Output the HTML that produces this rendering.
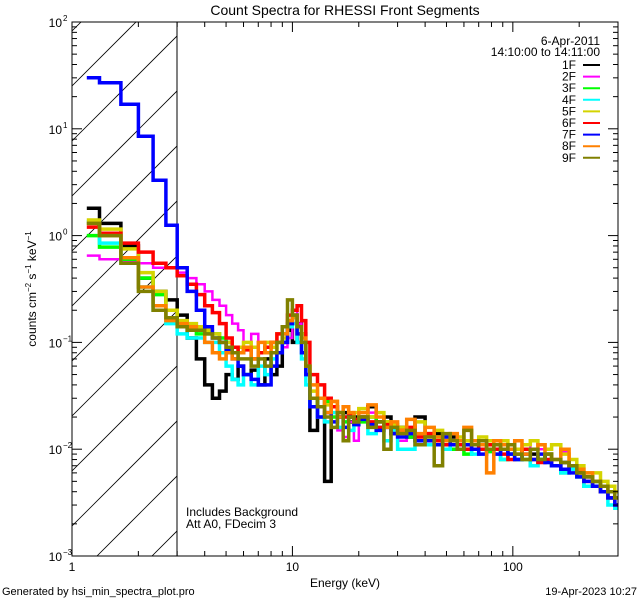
<!DOCTYPE html>
<html><head><meta charset="utf-8"><style>
html,body{margin:0;padding:0;background:#fff;width:640px;height:600px;overflow:hidden;}
svg{display:block;font-family:"Liberation Sans",sans-serif;}
</style></head><body>
<svg id="chart" width="640" height="600" viewBox="0 0 640 600" xmlns="http://www.w3.org/2000/svg">
<defs><clipPath id="plotclip"><rect x="72" y="22" width="546" height="534"/></clipPath>
<clipPath id="hatchclip"><rect x="72" y="22" width="105" height="534"/></clipPath></defs>
<rect x="0" y="0" width="640" height="600" fill="#fff"/>
<text x="345" y="15" font-size="14" text-anchor="middle">Count Spectra for RHESSI Front Segments</text>
<g id="hatch" clip-path="url(#hatchclip)"></g>
<line x1="177" y1="22" x2="177" y2="556" stroke="#000" stroke-width="1"/>
<g id="series" clip-path="url(#plotclip)"></g>
<rect x="72" y="22" width="546" height="534" fill="none" stroke="#000" stroke-width="1"/>
<g id="axes"></g>
<text x="345" y="587" font-size="12" text-anchor="middle">Energy (keV)</text>
<text transform="translate(36,289) rotate(-90)" font-size="12" text-anchor="middle">counts cm<tspan dy="-5" font-size="8">−2</tspan><tspan dy="5"> s</tspan><tspan dy="-5" font-size="8">−1</tspan><tspan dy="5"> keV</tspan><tspan dy="-5" font-size="8">−1</tspan></text>
<text x="600" y="45" font-size="12" text-anchor="end">6-Apr-2011</text>
<text x="600" y="56" font-size="12" text-anchor="end">14:10:00 to 14:11:00</text>
<g id="legend"></g>
<text x="186" y="516" font-size="12">Includes Background</text>
<text x="186" y="528" font-size="12">Att A0, FDecim 3</text>
<text x="2" y="595" font-size="11">Generated by hsi_min_spectra_plot.pro</text>
<text x="637" y="595" font-size="11" text-anchor="end">19-Apr-2023 10:27</text>
</svg>
<script>
const energyEdges=[1.167,1.333,1.667,2,2.333,2.667,3,3.333,3.667,4,4.333,4.667,5,5.333,5.667,6,6.5,7,7.5,8,8.5,9,9.5,10,10.5,11,11.5,12,13,14,15,16,17,18,19,20,22,24,26,28,30,33,36,40,44,48,52,56,60,65,70,76,82,88,95,102,110,120,130,140,150,165,180,195,210,230,250,270,290,300];
const seriesNames=["1F","2F","3F","4F","5F","6F","7F","8F","9F"];
const seriesColors=["#000000","#ff00ff","#00ff00","#00ffff","#d4d400","#ff0000","#0000ff","#ff8000","#808000"];
const s1F=[1.8,1.3,0.8,0.4,0.3,0.25,0.18,0.11,0.07,0.04,0.03,0.035,0.05,0.045,0.06, 0.05,0.055,0.04,0.07,0.05,0.06,0.1,0.13,0.1,0.15,0.12,0.05, 0.015,0.03,0.005,0.025,0.02,0.022,0.018,0.02, 0.02,0.025,0.018,0.02,0.015,0.016,0.013,0.02,0.012,0.014,0.011,0.013,0.012,0.011,0.01,0.012,0.01,0.011,0.01,0.009,0.008,0.01,0.009,0.008,0.009,0.007,0.0075,0.007,0.006,0.0055,0.005,0.004,0.0035,0.003];
const s2F=[0.65,0.6,0.58,0.55,0.5,0.5,0.45,0.4,0.35,0.3,0.25,0.22,0.18,0.15,0.13, 0.1,0.12,0.08,0.1,0.08,0.1,0.09,0.11,0.2,0.15,0.12,0.06, 0.03,0.025,0.02,0.022,0.015,0.013,0.018,0.012, 0.02,0.022,0.015,0.018,0.016,0.012,0.014,0.011,0.013,0.012,0.01,0.012,0.011,0.01,0.011,0.012,0.01,0.009,0.01,0.011,0.009,0.01,0.012,0.01,0.009,0.008,0.0095,0.008,0.007,0.006,0.005,0.0045,0.004,0.003];
const s3F=[1.0,0.78,0.6,0.4,0.28,0.2,0.14,0.13,0.12,0.12,0.12,0.11,0.1,0.09,0.08, 0.09,0.07,0.08,0.09,0.1,0.1,0.12,0.15,0.18,0.12,0.1,0.05, 0.03,0.025,0.028,0.02,0.022,0.018,0.02,0.017, 0.018,0.02,0.016,0.018,0.014,0.015,0.013,0.012,0.011,0.013,0.012,0.01,0.011,0.009,0.011,0.01,0.0095,0.01,0.008,0.009,0.01,0.008,0.007,0.008,0.009,0.007,0.006,0.007,0.0055,0.0045,0.005,0.004,0.0035,0.003];
const s4F=[1.35,0.85,0.55,0.33,0.2,0.15,0.12,0.11,0.11,0.1,0.1,0.08,0.06,0.045,0.04, 0.05,0.04,0.06,0.05,0.07,0.08,0.1,0.14,0.15,0.1,0.07,0.04, 0.025,0.02,0.018,0.022,0.016,0.02,0.015,0.018, 0.02,0.014,0.016,0.012,0.015,0.01,0.01,0.012,0.011,0.012,0.01,0.011,0.012,0.011,0.009,0.01,0.011,0.009,0.008,0.009,0.008,0.009,0.007,0.008,0.0075,0.007,0.006,0.0065,0.0055,0.0045,0.005,0.004,0.003,0.0028];
const s5F=[1.4,1.15,0.75,0.45,0.3,0.2,0.16,0.15,0.14,0.13,0.12,0.1,0.1,0.09,0.09, 0.1,0.09,0.08,0.1,0.09,0.12,0.11,0.15,0.17,0.14,0.12,0.06, 0.035,0.03,0.026,0.028,0.022,0.025,0.02,0.022, 0.024,0.02,0.022,0.018,0.017,0.016,0.015,0.018,0.014,0.015,0.013,0.012,0.013,0.012,0.011,0.013,0.012,0.011,0.012,0.011,0.01,0.011,0.012,0.011,0.01,0.011,0.009,0.008,0.007,0.006,0.006,0.005,0.0045,0.004];
const s6F=[1.2,1.05,0.85,0.7,0.55,0.5,0.42,0.35,0.28,0.22,0.19,0.15,0.11,0.09,0.08, 0.085,0.07,0.08,0.09,0.1,0.12,0.14,0.18,0.2,0.22,0.16,0.1, 0.05,0.04,0.03,0.025,0.022,0.02,0.021,0.019, 0.02,0.018,0.016,0.017,0.014,0.015,0.016,0.013,0.014,0.012,0.011,0.012,0.011,0.01,0.011,0.01,0.011,0.01,0.009,0.008,0.009,0.01,0.008,0.0075,0.008,0.007,0.0065,0.007,0.006,0.005,0.0045,0.004,0.0035,0.003];
const s7F=[30,27,17,8.5,3.3,1.25,0.5,0.3,0.2,0.14,0.11,0.1,0.085,0.07,0.06, 0.05,0.045,0.04,0.04,0.06,0.08,0.1,0.15,0.18,0.12,0.08,0.05, 0.025,0.02,0.022,0.018,0.02,0.016,0.02,0.017, 0.019,0.017,0.015,0.016,0.014,0.013,0.014,0.012,0.012,0.011,0.013,0.011,0.01,0.011,0.01,0.009,0.01,0.009,0.01,0.009,0.008,0.009,0.008,0.009,0.0075,0.007,0.0065,0.006,0.0055,0.005,0.0045,0.004,0.0035,0.003];
const s8F=[1.3,1.0,0.62,0.33,0.22,0.16,0.15,0.14,0.13,0.1,0.08,0.07,0.08,0.07,0.08, 0.09,0.07,0.1,0.08,0.1,0.1,0.12,0.16,0.18,0.14,0.11,0.06, 0.04,0.03,0.022,0.028,0.02,0.025,0.022,0.018, 0.022,0.026,0.02,0.016,0.018,0.015,0.019,0.014,0.016,0.013,0.012,0.014,0.012,0.016,0.012,0.011,0.006,0.012,0.011,0.01,0.012,0.009,0.01,0.011,0.009,0.008,0.01,0.007,0.0065,0.006,0.005,0.0045,0.004,0.0035];
const s9F=[1.3,1.0,0.55,0.3,0.2,0.17,0.14,0.13,0.13,0.12,0.11,0.1,0.09,0.08,0.07, 0.07,0.06,0.07,0.06,0.08,0.1,0.14,0.25,0.18,0.14,0.1,0.06, 0.03,0.025,0.02,0.016,0.022,0.012,0.02,0.018, 0.02,0.016,0.018,0.01,0.016,0.014,0.015,0.011,0.013,0.007,0.014,0.012,0.01,0.015,0.011,0.012,0.01,0.011,0.01,0.011,0.009,0.008,0.01,0.008,0.009,0.008,0.0075,0.007,0.006,0.0055,0.005,0.0045,0.004,0.0035];
const seriesValues=[s1F,s2F,s3F,s4F,s5F,s6F,s7F,s8F,s9F];
const xTickLabels=["1","10","100"];
const yTickExps=[-3,-2,-1,0,1,2];

const NS="http://www.w3.org/2000/svg";
const X0=72,X1=618,Y0=22,Y1=556;
const xMin=0,xMax=Math.log10(300),yMin=-3,yMax=2;
function xs(e){return X0+(Math.log10(e)-xMin)/(xMax-xMin)*(X1-X0);}
function ys(v){return Y1-(Math.log10(v)-yMin)/(yMax-yMin)*(Y1-Y0);}
function mk(tag,attrs,parent){const el=document.createElementNS(NS,tag);for(const k in attrs)el.setAttribute(k,attrs[k]);parent.appendChild(el);return el;}

const hatch=document.getElementById('hatch');
for(let k=-2;k<12;k++){const c=86+55*k;
 const ln=mk('line',{x1:72,y1:c,x2:72+300,y2:c-300,stroke:'#000','stroke-width':0.8},hatch);
 
 
}

const sg=document.getElementById('series');
seriesValues.forEach((vals,si)=>{
 let d='';
 const n=Math.min(vals.length,energyEdges.length-1);
 for(let i=0;i<n;i++){
  const xa=xs(energyEdges[i]),xb=xs(energyEdges[i+1]),y=ys(vals[i]);
  d+=(i===0?'M':'L')+xa.toFixed(1)+','+y.toFixed(1)+'L'+xb.toFixed(1)+','+y.toFixed(1);
 }
 const p=mk('path',{d:d,fill:'none',stroke:seriesColors[si],'stroke-width':si===1?2.5:3.5,'stroke-linejoin':'miter'},sg);
 
 
});

const ax=document.getElementById('axes');
for(let dec=0;dec<3;dec++){for(let m=1;m<10;m++){const e=m*Math.pow(10,dec);if(e>300)break;
 const x=xs(e),L=(m===1)?10:5;
 const t1=mk('line',{x1:x,y1:Y1,x2:x,y2:Y1-L,stroke:'#000','stroke-width':1},ax);
 
 
 const t2=mk('line',{x1:x,y1:Y0,x2:x,y2:Y0+L,stroke:'#000','stroke-width':1},ax);
 
 
}}
xTickLabels.forEach((lab,i)=>{
 const t=mk('text',{x:xs(Math.pow(10,i)),y:571,'font-size':12,'text-anchor':'middle'},ax);
 t.textContent=lab;
 
 
});
for(let ex=-3;ex<2;ex++){for(let m=1;m<10;m++){const v=m*Math.pow(10,ex);
 const y=ys(v),L=(m===1)?10:5;
 const t1=mk('line',{x1:X0,y1:y,x2:X0+L,y2:y,stroke:'#000','stroke-width':1},ax);
 
 
 const t2=mk('line',{x1:X1,y1:y,x2:X1-L,y2:y,stroke:'#000','stroke-width':1},ax);
 
 
}}
yTickExps.forEach(ex=>{
 const y=ys(Math.pow(10,ex));
 const t=mk('text',{x:62,y:y+5,'font-size':12,'text-anchor':'end'},ax);
 t.textContent='10';
 
 
 const s=mk('text',{x:63,y:y-1,'font-size':8},ax);
 s.textContent=String(ex).replace('-','−');
 
 
});

const lg=document.getElementById('legend');
seriesNames.forEach((nm,i)=>{
 const y=65+i*11.6;
 const t=mk('text',{x:576,y:y+4,'font-size':12,'text-anchor':'end'},lg);
 t.textContent=nm;
 
 
 const l=mk('line',{x1:583,y1:y,x2:600,y2:y,stroke:seriesColors[i],'stroke-width':2},lg);
 
 
});
</script>
</body></html>
